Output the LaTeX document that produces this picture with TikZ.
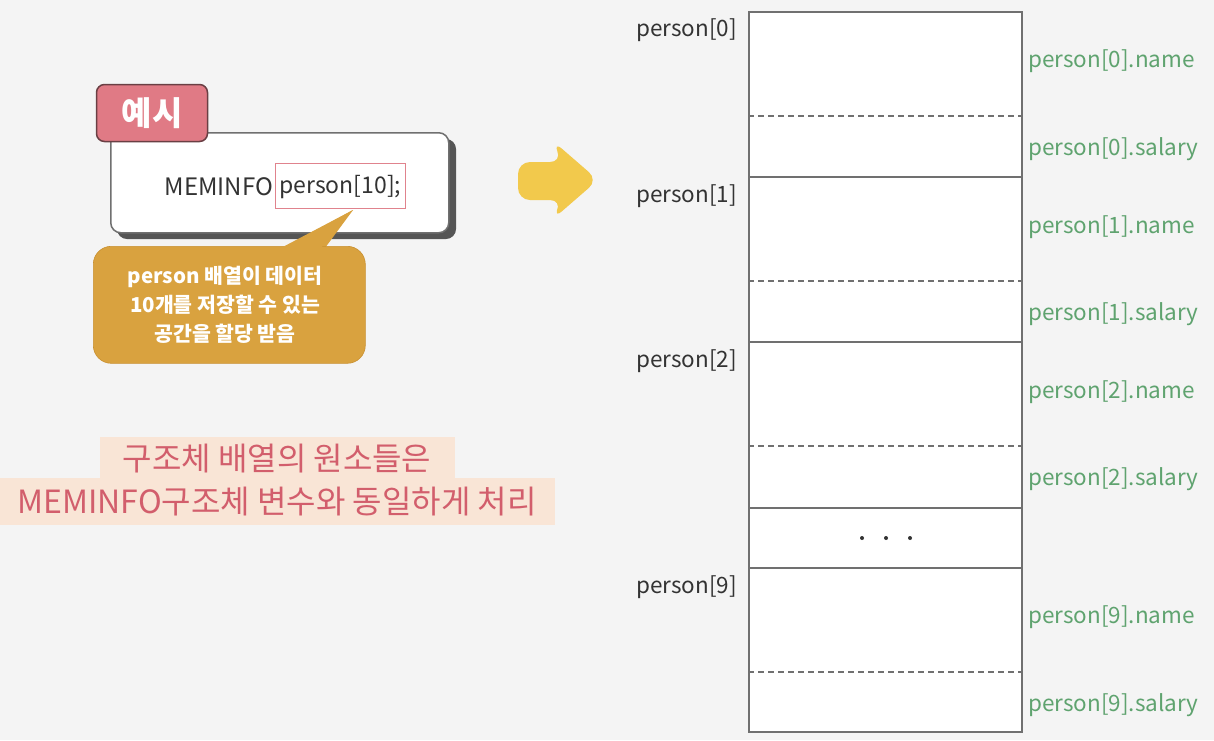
\documentclass[tikz,border=0pt]{standalone}
\usepackage{fontspec}
\setmainfont{Noto Sans CJK KR}
\definecolor{bgc}{HTML}{F4F4F4}
\definecolor{cellgray}{HTML}{707070}
\definecolor{lblc}{HTML}{333333}
\definecolor{greenc}{HTML}{5FA36F}
\definecolor{tabpink}{HTML}{E07A85}
\definecolor{tabborder}{HTML}{6A3F44}
\definecolor{hlpink}{HTML}{E0838D}
\definecolor{gold}{HTML}{D9A23F}
\definecolor{goldb}{HTML}{C99030}
\definecolor{beige}{HTML}{F9E5D6}
\definecolor{redtext}{HTML}{D25E6C}
\definecolor{arrowy}{HTML}{F2C94C}
\definecolor{shadowc}{HTML}{555555}
\tikzset{
  cell/.style={draw=cellgray, line width=1.6pt, fill=white, anchor=north west, inner sep=0pt, minimum width=273pt},
  divider/.style={draw=cellgray, line width=1.4pt, dash pattern=on 6pt off 4pt},
  leftlbl/.style={anchor=east, text=lblc, font=\fontsize{22.5}{26}\selectfont, inner sep=0pt},
  greenlbl/.style={anchor=west, text=greenc, font=\fontsize{22.5}{26}\selectfont, inner sep=0pt},
  dotmark/.style={circle, fill=lblc, inner sep=0pt, minimum size=4pt},
  notetext/.style={text=redtext, font=\fontsize{32}{36}\selectfont, inner sep=0pt}
}
\begin{document}
\begin{tikzpicture}[x=1pt,y=-1pt]
\fill[bgc] (0,0) rectangle (1214,740);
\useasboundingbox (0,0) rectangle (1214,740);

% ---------- memory block ----------
\node[cell, minimum height=165pt] (p0) at (748,11) {};
\node[cell, minimum height=165pt] (p1) at (748,176) {};
\node[cell, minimum height=166pt] (p2) at (748,341) {};
\node[cell, minimum height=60pt] (pd) at (748,507) {};
\node[cell, minimum height=164pt] (p9) at (748,567) {};
\draw[divider] (748,116) -- (1021,116);
\draw[divider] (748,281) -- (1021,281);
\draw[divider] (748,446) -- (1021,446);
\draw[divider] (748,672) -- (1021,672);
\node[dotmark] (d1) at (862,538) {};
\node[dotmark] (d2) at (886,538) {};
\node[dotmark] (d3) at (910,538) {};

\node[leftlbl] (l0) at (737,30) {person[0]};
\node[leftlbl] (l1) at (737,196) {person[1]};
\node[leftlbl] (l2) at (737,361) {person[2]};
\node[leftlbl] (l9) at (737,587) {person[9]};

\node[greenlbl] (g0n) at (1028,61) {person[0].name};
\node[greenlbl] (g0s) at (1028,149) {person[0].salary};
\node[greenlbl] (g1n) at (1028,227) {person[1].name};
\node[greenlbl] (g1s) at (1028,314) {person[1].salary};
\node[greenlbl] (g2n) at (1028,392) {person[2].name};
\node[greenlbl] (g2s) at (1028,479) {person[2].salary};
\node[greenlbl] (g9n) at (1028,617) {person[9].name};
\node[greenlbl] (g9s) at (1028,705) {person[9].salary};

% ---------- yellow arrow ----------
\fill[arrowy, rounded corners=12pt]
  (518,162) -- (562,162) -- (553,141) -- (598,180) -- (553,219) -- (562,200) -- (518,200) -- cycle;

% ---------- example box ----------
\fill[shadowc, rounded corners=10pt] (117,139) rectangle (456,239);
\node[draw=cellgray, line width=1.5pt, fill=white, rounded corners=10pt, anchor=north west,
      minimum width=338pt, minimum height=100pt, inner sep=0pt] (box) at (110,132) {};
\node[draw=tabborder, line width=1.5pt, fill=tabpink, rounded corners=8pt,
      minimum width=111pt, minimum height=57pt, inner sep=0pt, text=white,
      font=\fontsize{33}{36}\selectfont\bfseries] (tab) at (152,113) {예시};
\node[anchor=east, text=lblc, font=\fontsize{24}{28}\selectfont, inner sep=0pt] (mem) at (273,187) {MEMINFO};
\node[draw=hlpink, line width=1.3pt, anchor=north west, minimum width=130pt, minimum height=45pt,
      inner sep=0pt] (hl) at (275,163) {};
\node[anchor=west, text=lblc, font=\fontsize{23}{27}\selectfont, inner sep=0pt] (arr) at (279,187) {person[10];};

% ---------- callout ----------
\coordinate (tip) at (353,210);
\fill[gold] (277,252) -- (tip) -- (322,252) -- cycle;
\node[fill=gold, draw=goldb, line width=0.6pt, rounded corners=18pt, anchor=north west,
      minimum width=272pt, minimum height=117pt, inner sep=0pt] (call) at (93,246) {};
\fill[gold] (279,249) -- (tip) -- (320,249) -- cycle;
\node[text=white, font=\fontsize{20.5}{29}\selectfont\bfseries, align=center, inner sep=0pt]
  (ctext) at (225,305) {person 배열이 데이터\\10개를 저장할 수 있는\\공간을 할당 받음};

% ---------- pink note ----------
\fill[beige] (100,437) rectangle (455,479);
\fill[beige] (0,478) rectangle (555,525);
\node[notetext] (n1) at (277,459) {구조체 배열의 원소들은};
\node[notetext] (n2) at (277,502) {MEMINFO구조체 변수와 동일하게 처리};
\end{tikzpicture}
\end{document}
